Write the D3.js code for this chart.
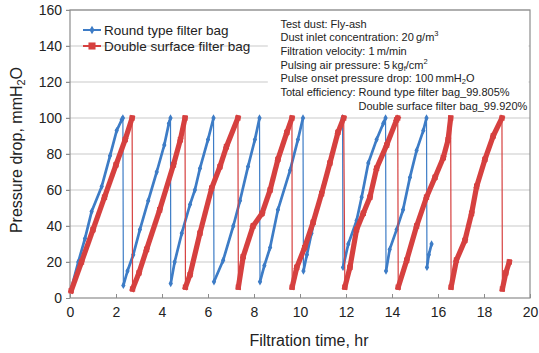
<!DOCTYPE html>
<html>
<head>
<meta charset="utf-8">
<script src="https://cdn.jsdelivr.net/npm/d3@7"></script>
<style>
  body { margin: 0; background: #fff; }
  svg { font-family: "Liberation Sans", Arial, sans-serif; }
</style>
</head>
<body>
<div id="chart"></div>
<script>
// values
const roundTime = [0.05, 0.36, 0.65, 0.94, 1.38, 1.74, 2.03, 2.25, 2.3,
  2.32, 2.5, 2.75, 3.04, 3.4, 3.77, 4.1, 4.3, 4.37,
  4.38, 4.55, 4.86, 5.22, 5.43, 5.65, 6.0, 6.24,
  6.26, 6.66, 7.1, 7.39, 7.74, 8.04, 8.24,
  8.26, 8.45, 8.7, 9.04, 9.57, 9.91, 10.13,
  10.15, 10.3, 10.5, 10.72, 11.0, 11.38, 11.67, 11.85,
  11.87, 12.1, 12.46, 12.68, 12.97, 13.33, 13.62, 13.72,
  13.74, 13.9, 14.2, 14.48, 14.78, 15.07, 15.36, 15.5,
  15.52, 15.6, 15.72];
const roundDrop = [5, 20, 33, 48, 62, 79, 93, 99, 100,
  7, 15, 24, 38, 54, 70, 85, 97, 100,
  8, 20, 36, 52, 60, 72, 88, 100,
  9, 21, 40, 54, 73, 88, 100,
  9, 18, 28, 49, 71, 88, 100,
  15, 24, 36, 49, 62, 80, 93, 100,
  17, 30, 43, 56, 75, 88, 97, 100,
  15, 27, 38, 49, 67, 82, 93, 100,
  17, 24, 30];

const doubleTime = [0.05, 0.5, 1.0, 1.5, 2.0, 2.4, 2.7,
  2.72, 3.0, 3.33, 3.9, 4.5, 4.8, 5.0,
  5.02, 5.22, 5.65, 6.16, 6.52, 6.8, 7.3,
  7.32, 7.53, 7.96, 8.35, 8.7, 9.04, 9.43, 9.65,
  9.66, 9.86, 10.2, 10.57, 10.94, 11.3, 11.65, 11.9,
  11.95, 12.17, 12.46, 12.75, 13.04, 13.33, 13.77, 14.2, 14.25,
  14.27, 14.64, 15.07, 15.5, 15.87, 16.23, 16.44, 16.55,
  16.57, 16.8, 17.17, 17.46, 17.68, 18.04, 18.4, 18.78,
  18.8, 18.95, 19.1];
const doubleDrop = [4, 20, 38, 56, 74, 88, 100,
  5, 14, 27, 49, 74, 88, 100,
  6, 13, 36, 61, 73, 84, 100,
  6, 23, 40, 47, 60, 77, 92, 100,
  6, 17, 28, 42, 58, 75, 92, 100,
  6, 17, 38, 47, 56, 72, 85, 99, 100,
  6, 21, 40, 56, 67, 78, 88, 100,
  6, 21, 32, 47, 62, 77, 90, 100,
  5, 14, 20];

const xTicks = [0, 2, 4, 6, 8, 10, 12, 14, 16, 18, 20];
const yTicks = [0, 20, 40, 60, 80, 100, 120, 140, 160];
const seriesNames = ["Round type filter bag", "Double surface filter bag"];

const width = 539, height = 353;
const margin = {top: 10, right: 9, bottom: 55, left: 70};
const innerW = width - margin.left - margin.right;
const innerH = height - margin.top - margin.bottom;

const blue = "#3d7cc6", red = "#d6403f";

const svg = d3.select("#chart").append("svg")
  .attr("width", width).attr("height", height);
const g = svg.append("g").attr("transform", `translate(${margin.left},${margin.top})`);

const x = d3.scaleLinear().domain([0, 20]).range([0, innerW]);
const y = d3.scaleLinear().domain([0, 160]).range([innerH, 0]);

// gridlines
g.append("g").selectAll("line").data(yTicks.slice(1)).join("line")
  .attr("x1", -4).attr("x2", innerW)
  .attr("y1", d => y(d)).attr("y2", d => y(d))
  .attr("stroke", "#c9c9c9").attr("stroke-width", 1);

// y axis
const yAxis = g.append("g").call(d3.axisLeft(y).tickValues(yTicks).tickSize(4).tickPadding(4));
yAxis.select(".domain").remove();
yAxis.selectAll("line").attr("stroke", "#8c8c8c");
yAxis.selectAll("text").attr("font-size", 14).attr("fill", "#222")
  .attr("font-family", "Liberation Sans, Arial, sans-serif");

// x axis (ticks inside)
const xAxis = g.append("g").attr("transform", `translate(0,${innerH})`)
  .call(d3.axisBottom(x).tickValues(xTicks).tickSize(-4).tickPadding(9));
xAxis.select(".domain").remove();
xAxis.selectAll("line").attr("stroke", "#8c8c8c");
xAxis.selectAll("text").attr("font-size", 14).attr("fill", "#222")
  .attr("font-family", "Liberation Sans, Arial, sans-serif");

// plot frame
g.append("rect").attr("x", 0).attr("y", 0).attr("width", innerW).attr("height", innerH)
  .attr("fill", "none").attr("stroke", "#8c8c8c").attr("stroke-width", 1.2);

// white note box over the upper right
g.append("rect").attr("x", x(8.6)).attr("y", 1).attr("width", innerW - x(8.6) - 1.5).attr("height", y(106) - 1)
  .attr("fill", "#fff");

function drawSeries(times, drops, color, band, marker) {
  const pts = times.map((t, i) => [t, drops[i]]);
  const line = d3.line().x(d => x(d[0])).y(d => y(d[1]));
  // thin connecting line, including the pulse drops
  g.append("path").datum(pts).attr("d", line)
    .attr("fill", "none").attr("stroke", color).attr("stroke-width", 1.2);
  // dense marker trail on the rising parts
  const rising = [];
  for (let i = 1; i < pts.length; i++) {
    if (pts[i][1] > pts[i - 1][1]) rising.push([pts[i - 1], pts[i]]);
  }
  g.append("g").selectAll("path").data(rising).join("path")
    .attr("d", line)
    .attr("fill", "none").attr("stroke", color)
    .attr("stroke-width", band).attr("stroke-linecap", marker === "square" ? "square" : "round");
  const sym = marker === "square" ? d3.symbolSquare : d3.symbolDiamond;
  const size = marker === "square" ? 28 : 16;
  g.append("g").selectAll("path").data(pts).join("path")
    .attr("transform", d => `translate(${x(d[0])},${y(d[1])})`)
    .attr("d", d3.symbol().type(sym).size(size))
    .attr("fill", color);
}

drawSeries(roundTime, roundDrop, blue, 2.7, "diamond");
drawSeries(doubleTime, doubleDrop, red, 5.2, "square");

// legend
const legend = g.append("g").attr("transform", "translate(13,20)");
[[blue, "diamond"], [red, "square"]].forEach(([c, m], i) => {
  const row = legend.append("g").attr("transform", `translate(0,${i * 16})`);
  row.append("line").attr("x1", 0).attr("x2", 18).attr("stroke", c).attr("stroke-width", 2);
  row.append("path").attr("transform", "translate(9,0)")
    .attr("d", d3.symbol().type(m === "square" ? d3.symbolSquare : d3.symbolDiamond).size(m === "square" ? 50 : 22))
    .attr("fill", c);
  row.append("text").attr("x", 21).attr("y", 5).attr("font-size", 13.5).attr("fill", "#222")
    .text(seriesNames[i]);
});

// test conditions note
const note = g.append("g").attr("transform", `translate(${x(9.15)},0)`)
  .attr("font-size", 11).attr("fill", "#222");
const lineY = i => 17.5 + i * 13.7;
note.append("text").attr("y", lineY(0)).text("Test dust: Fly-ash");
let t1 = note.append("text").attr("y", lineY(1)).text("Dust inlet concentration: 20\u2009g/m");
t1.append("tspan").attr("font-size", 7.5).attr("dy", -5).text("3");
note.append("text").attr("y", lineY(2)).text("Filtration velocity: 1\u2009m/min");
let t3 = note.append("text").attr("y", lineY(3)).text("Pulsing air pressure: 5\u2009kg");
t3.append("tspan").attr("font-size", 7.5).attr("dy", 2).text("f");
t3.append("tspan").attr("dy", -2).text("/cm");
t3.append("tspan").attr("font-size", 7.5).attr("dy", -5).text("2");
let t4 = note.append("text").attr("y", lineY(4)).text("Pulse onset pressure drop: 100\u2009mmH");
t4.append("tspan").attr("font-size", 7.5).attr("dy", 2).text("2");
t4.append("tspan").attr("dy", -2).text("O");
const t5 = note.append("text").attr("y", lineY(5));
const t5a = t5.append("tspan").text("Total efficiency: ");
t5.append("tspan").text("Round type filter bag_99.805%");
const indent = t5a.node().getComputedTextLength();
note.append("text").attr("x", indent).attr("y", lineY(6)).text("Double surface filter bag_99.920%");

// axis titles
svg.append("text").attr("x", 309).attr("y", 346).attr("text-anchor", "middle")
  .attr("font-size", 16).attr("fill", "#222").text("Filtration time, hr");
const yt = svg.append("text").attr("transform", "translate(22,150) rotate(-90)")
  .attr("text-anchor", "middle").attr("font-size", 16).attr("fill", "#222")
  .text("Pressure drop, mmH");
yt.append("tspan").attr("font-size", 11).attr("dy", 3).text("2");
yt.append("tspan").attr("dy", -3).text("O");
</script>
</body>
</html>
